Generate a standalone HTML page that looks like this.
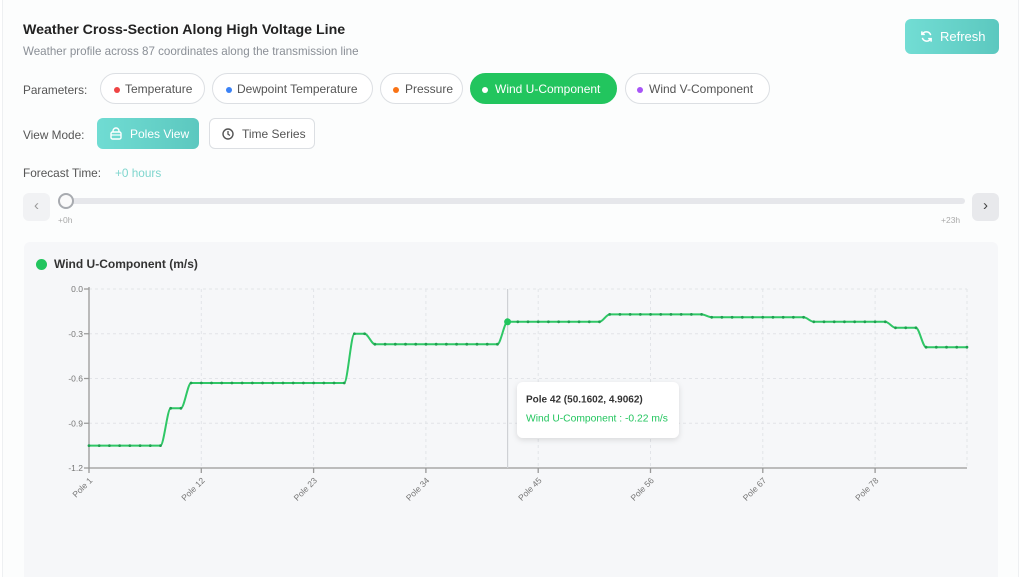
<!DOCTYPE html>
<html><head><meta charset="utf-8">
<style>
*{margin:0;padding:0;box-sizing:border-box}
html,body{width:1024px;height:577px;overflow:hidden;background:#fff}
body{font-family:"Liberation Sans",sans-serif;position:relative}
.page{position:absolute;left:2px;top:0;width:1017px;height:577px;background:#fcfdfd;border-left:1px solid #eef0f2;border-right:1px solid #eef0f2}
.abs{position:absolute;white-space:nowrap}
.title{left:23px;top:22px;font-size:14.2px;font-weight:bold;color:#222}
.sub{left:23px;top:45px;font-size:11.6px;color:#8a8f96}
.lbl{font-size:11.8px;color:#555}
.pill{position:absolute;top:73px;height:31px;border:1.5px solid #dcdfe3;border-radius:16px;background:#fff;font-size:12px;color:#555;line-height:30px}
.pill .d{position:absolute;top:12.5px;width:6px;height:6px;border-radius:50%}
.pill span{position:absolute;top:0}
.btn{position:absolute;border-radius:6px;font-size:12px;line-height:31px}
</style></head><body>
<div class="page"></div>
<div class="abs title">Weather Cross-Section Along High Voltage Line</div>
<div class="abs sub">Weather profile across 87 coordinates along the transmission line</div>

<div class="btn" style="left:905px;top:19px;width:94px;height:35px;background:linear-gradient(90deg,#72ddd4,#5cc8bf);color:#fff;font-size:13px;line-height:35px">
<svg style="position:absolute;left:15px;top:11px" width="13" height="13" viewBox="0 0 14 14"><path d="M11.5 5.5A5 5 0 0 0 2.6 4.2M2.5 8.5a5 5 0 0 0 8.9 1.3" fill="none" stroke="#fff" stroke-width="1.6"/><path d="M2 1.5v3.2h3.2M12 12.5V9.3H8.8" fill="none" stroke="#fff" stroke-width="1.6"/></svg>
<span style="position:absolute;left:35px">Refresh</span></div>

<div class="abs lbl" style="left:23px;top:83px">Parameters:</div>
<div class="pill" style="left:100px;width:105px"><i class="d" style="left:13px;background:#ef4444"></i><span style="left:24px">Temperature</span></div>
<div class="pill" style="left:212px;width:161px"><i class="d" style="left:13px;background:#3b82f6"></i><span style="left:24px">Dewpoint Temperature</span></div>
<div class="pill" style="left:380px;width:83px"><i class="d" style="left:12px;background:#f97316"></i><span style="left:24px">Pressure</span></div>
<div class="pill" style="left:470px;width:147px;background:#22c55e;border-color:#22c55e;color:#fff"><i class="d" style="left:11px;background:#fff"></i><span style="left:24px">Wind U-Component</span></div>
<div class="pill" style="left:625px;width:145px"><i class="d" style="left:11px;background:#a855f7"></i><span style="left:23px">Wind V-Component</span></div>

<div class="abs lbl" style="left:23px;top:128px">View Mode:</div>
<div class="btn" style="left:97px;top:118px;width:102px;height:31px;background:linear-gradient(90deg,#70dcd3,#5cc8bf);color:#fff;line-height:32px">
<svg style="position:absolute;left:13px;top:9px" width="12" height="13" viewBox="0 0 12 13"><rect x="1" y="5" width="10" height="7" rx="1.5" fill="none" stroke="#fff" stroke-width="1.4"/><path d="M3 5V4a3 3 0 0 1 6 0v1" fill="none" stroke="#fff" stroke-width="1.4"/><path d="M1 8h10" stroke="#fff" stroke-width="1.2"/></svg>
<span style="position:absolute;left:33px">Poles View</span></div>
<div class="btn" style="left:209px;top:118px;width:106px;height:31px;border:1.5px solid #dcdfe3;background:#fff;color:#555;line-height:30px">
<svg style="position:absolute;left:12px;top:8.5px" width="12" height="12" viewBox="0 0 12 12"><circle cx="6" cy="6" r="5" fill="none" stroke="#555" stroke-width="1.4"/><path d="M6 3v3.2l2 1.3" fill="none" stroke="#555" stroke-width="1.3"/></svg>
<span style="position:absolute;left:32px">Time Series</span></div>

<div class="abs lbl" style="left:23px;top:166px">Forecast Time:</div>
<div class="abs" style="left:115px;top:166px;font-size:11.8px;color:#7fd6ce">+0 hours</div>

<div class="btn" style="left:23px;top:193px;width:27px;height:28px;background:#f1f2f4;color:#999;text-align:center;line-height:26px;font-size:15px">&#8249;</div>
<div class="abs" style="left:58px;top:198px;width:907px;height:6px;background:#e6e7eb;border-radius:3px"></div>
<div class="abs" style="left:58px;top:193px;width:16px;height:16px;border-radius:50%;background:#fafafa;border:2px solid #a8abb0"></div>
<div class="abs" style="left:58px;top:215px;font-size:8.5px;color:#aaa">+0h</div>
<div class="abs" style="left:941px;top:215px;font-size:8.5px;color:#aaa">+23h</div>
<div class="btn" style="left:972px;top:193px;width:27px;height:28px;background:#e8e9ec;color:#444;text-align:center;line-height:26px;font-size:15px">&#8250;</div>

<div class="abs" style="left:24px;top:242px;width:974px;height:340px;background:#f6f7f9;border-radius:6px"></div>
<div class="abs" style="left:35.5px;top:258.5px;width:11px;height:11px;border-radius:50%;background:#22c55e"></div>
<div class="abs" style="left:54px;top:257px;font-size:12px;font-weight:bold;color:#333">Wind U-Component (m/s)</div>

<svg class="abs" style="left:0;top:0" width="1024" height="577" viewBox="0 0 1024 577" font-family="Liberation Sans, sans-serif">
<defs><filter id="sh" x="-20%" y="-30%" width="140%" height="170%"><feDropShadow dx="0" dy="2" stdDeviation="3" flood-color="#000" flood-opacity="0.12"/></filter></defs>
<g stroke="#e2e4e8" stroke-width="1" stroke-dasharray="3 3" fill="none">
<path d="M89 289H967M89 333.75H967M89 378.5H967M89 423.25H967"/>
<path d="M201.3 289V468M313.6 289V468M425.9 289V468M538.2 289V468M650.5 289V468M762.8 289V468M875.1 289V468M967 289V468"/>
</g>
<g stroke="#999" stroke-width="1.3" fill="none">
<path d="M89 287V468H967"/>
<path d="M84 289H89M84 333.75H89M84 378.5H89M84 423.25H89M84 468H89"/>
<path d="M89 468V473M201.3 468V473M313.6 468V473M425.9 468V473M538.2 468V473M650.5 468V473M762.8 468V473M875.1 468V473"/>
</g>
<g font-size="8.5" fill="#777" text-anchor="end">
<text x="83" y="292">0.0</text>
<text x="83" y="337">-0.3</text>
<text x="83" y="381.5">-0.6</text>
<text x="83" y="426.5">-0.9</text>
<text x="83" y="471">-1.2</text>
</g>
<g font-size="8.5" fill="#777" text-anchor="end">
<text transform="translate(93 481) rotate(-45)">Pole 1</text>
<text transform="translate(205.3 481) rotate(-45)">Pole 12</text>
<text transform="translate(317.6 481) rotate(-45)">Pole 23</text>
<text transform="translate(429.9 481) rotate(-45)">Pole 34</text>
<text transform="translate(542.2 481) rotate(-45)">Pole 45</text>
<text transform="translate(654.5 481) rotate(-45)">Pole 56</text>
<text transform="translate(766.8 481) rotate(-45)">Pole 67</text>
<text transform="translate(879.1 481) rotate(-45)">Pole 78</text>
</g>
<line x1="507.6" y1="289" x2="507.6" y2="468" stroke="#cfd1d5" stroke-width="1.2"/>
<path d="M89,445.6 H160.5 C163.9,445.6 167.3,408.3 170.7,408.3 H180.9 C184.3,408.3 187.7,383 191.1,383 H344.2 C347.6,383 351,333.75 354.4,333.75 H364.6 C368,333.75 371.5,344.2 374.9,344.2 H497.4 C500.8,344.2 504.2,321.8 507.6,321.8 H599.5 C602.9,321.8 606.3,314.4 609.7,314.4 H701.5 C704.9,314.4 708.3,317.3 711.7,317.3 H803.6 C807,317.3 810.4,321.8 813.8,321.8 H885.3 C888.7,321.8 892.1,327.8 895.5,327.8 H915.9 C919.3,327.8 922.7,347.2 926.1,347.2 H967" fill="none" stroke="#2fc766" stroke-width="2"/>
<g stroke="#1fa050" stroke-width="2.8" stroke-linecap="round" stroke-dasharray="0 10.2093">
<line x1="89" y1="445.6" x2="160.6" y2="445.6"/>
<line x1="170.7" y1="408.3" x2="181" y2="408.3"/>
<line x1="191.1" y1="383" x2="344.3" y2="383"/>
<line x1="354.4" y1="333.75" x2="364.7" y2="333.75"/>
<line x1="374.9" y1="344.2" x2="497.5" y2="344.2"/>
<line x1="507.6" y1="321.8" x2="599.6" y2="321.8"/>
<line x1="609.7" y1="314.4" x2="701.6" y2="314.4"/>
<line x1="711.7" y1="317.3" x2="803.7" y2="317.3"/>
<line x1="813.8" y1="321.8" x2="885.4" y2="321.8"/>
<line x1="895.5" y1="327.8" x2="916" y2="327.8"/>
<line x1="926.1" y1="347.2" x2="967.1" y2="347.2"/>
</g>
<circle cx="507.6" cy="321.8" r="3.5" fill="#22c55e"/>
<rect x="517" y="382" width="162" height="56" rx="6" fill="#fff" filter="url(#sh)"/>
<text x="526" y="402.5" font-size="10" font-weight="bold" fill="#333">Pole 42 (50.1602, 4.9062)</text>
<text x="526" y="421.5" font-size="10.3" fill="#22c55e">Wind U-Component : -0.22 m/s</text>
</svg>
</body></html>
